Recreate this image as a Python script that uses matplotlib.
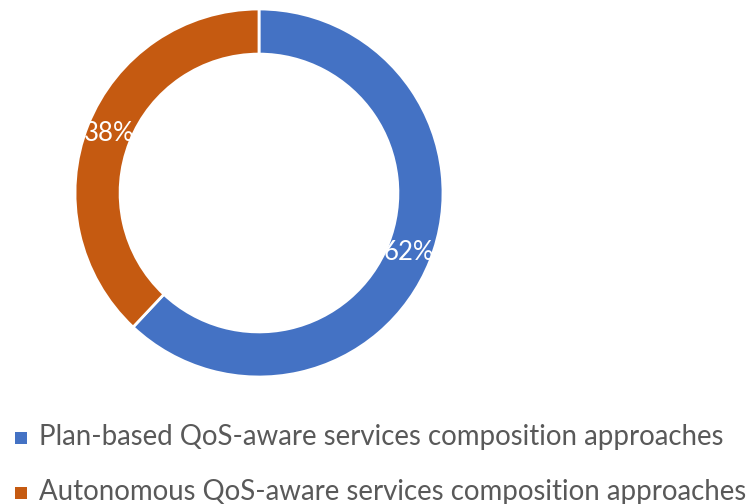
import matplotlib
matplotlib.use("Agg")
import matplotlib.pyplot as plt
from matplotlib.patches import Rectangle

categories = [
    "Plan-based QoS-aware services composition approaches",
    "Autonomous QoS-aware services composition approaches",
]
shares = [62, 38]
colors = ["#4472C4", "#C55A11"]

plt.rcParams["font.family"] = ["Lato", "DejaVu Sans"]

W, H = 750, 504
fig = plt.figure(figsize=(W / 100, H / 100), dpi=100)
fig.patch.set_facecolor("white")

# square axes holding the ring
ax = fig.add_axes([75 / W, 1 - 377 / H, 368 / W, 368 / H])
ring_width = 0.245
wedges, _, autotexts = ax.pie(
    shares,
    colors=colors,
    startangle=90,
    counterclock=False,
    radius=1.0,
    autopct="%d%%",
    pctdistance=1 - ring_width / 2,
    wedgeprops=dict(width=ring_width, edgecolor="white", linewidth=2),
    textprops=dict(color="white", fontsize=18.5),
)
ax.set_xlim(-1, 1)
ax.set_ylim(-1, 1)
ax.set_axis_off()

# legend rows below the ring: square key + label
row_baselines = [445, 500]
for label, color, base in zip(categories, colors, row_baselines):
    fig.patches.append(
        Rectangle((15 / W, 1 - (base - 1) / H), 12 / W, 12 / H,
                  transform=fig.transFigure, facecolor=color, edgecolor="none")
    )
    fig.text(39 / W, 1 - base / H, label, fontsize=19.9, color="#595959",
             ha="left", va="baseline")

fig.savefig("out.png", dpi=100, facecolor="white")
